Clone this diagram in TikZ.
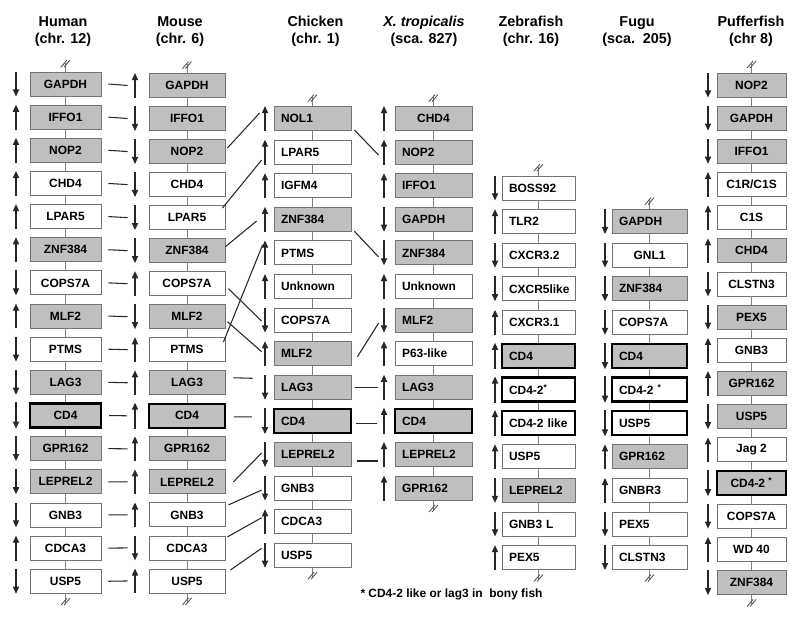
\documentclass[tikz,border=0pt]{standalone}
\usepackage{fontspec}
\setmainfont{Liberation Sans}
\usetikzlibrary{arrows.meta, calc}

\definecolor{boxgrey}{gray}{0.75}
\newcommand{\genefont}{\fontsize{8.5}{10}\selectfont\bfseries}
\newcommand{\headfont}{\fontsize{10.2}{12}\selectfont\bfseries}

\tikzset{
	gene/.style = {draw = black!55, line width = 0.6pt, minimum height = 0.6cm, inner xsep = 5pt, inner ysep = 0pt, font = \genefont},
	wbox/.style = {fill = white},
	gbox/.style = {fill = boxgrey},
	kbox/.style = {fill = boxgrey, draw = black, line width = 1.6pt},
	kwbox/.style = {fill = white, draw = black, line width = 1.6pt},
	gctr/.style = {gbox, align = center},
	wctr/.style = {wbox, align = center},
	lcol/.style = {text width = #1, align = left},
	arup/.style = {-{Triangle[length = 5pt, width = 4.4pt]}, draw = black!85, line width = 0.75pt},
	ardn/.style = {{Triangle[length = 5pt, width = 4.4pt]}-, draw = black!85, line width = 0.75pt},
	spine/.style = {draw = black!50, line width = 0.6pt},
	link/.style = {draw = black!85, line width = 0.75pt},
	head/.style = {font = \headfont, align = center},
	breakmark/.pic = {
		\draw[spine] (0, 0) -- (0, -9);
		\draw[black!70, line width = 0.6pt] (-4.5, -4.5) -- (1.5, -11.5) (-1.5, -4.5) -- (4.5, -11.5);
	}
}

\begin{document}
\begin{tikzpicture}[x = 0.025cm, y = -0.025cm]
	\useasboundingbox (0, 0) rectangle (800, 623);
	%Headers
	\node[head] (hdhum) at (63, 31.5) {Human\\(chr. 12)};
	\node[head] (hdmou) at (180, 31.5) {Mouse\\(chr. 6)};
	\node[head] (hdchi) at (315.5, 31.5) {Chicken\\(chr. 1)};
	\node[head] (hdxtr) at (424, 31.5) {{\itshape X. tropicalis}\\(sca. 827)};
	\node[head] (hdzeb) at (531, 31.5) {Zebrafish\\(chr. 16)};
	\node[head] (hdfug) at (637, 31.5) {Fugu\\(sca.~~205)};
	\node[head] (hdpuf) at (751, 31.5) {Pufferfish\\(chr 8)};
	%Strand arrows
	\coordinate (ah) at (16, 0);
	\coordinate (am) at (135, 0);
	\coordinate (ac) at (265, 0);
	\coordinate (ax) at (384, 0);
	\coordinate (az) at (495, 0);
	\coordinate (af) at (605, 0);
	\coordinate (ap) at (708, 0);
	%Human
	\foreach \gn/\fl/\dir [count = \i] in {GAPDH/gbox/ardn, IFFO1/gbox/arup, NOP2/gbox/arup, CHD4/wbox/arup, LPAR5/wbox/arup, ZNF384/gbox/arup, COPS7A/wbox/ardn, MLF2/gbox/arup, PTMS/wbox/ardn, LAG3/gbox/ardn, CD4/kbox/ardn, GPR162/gbox/ardn, LEPREL2/gbox/ardn, GNB3/wbox/ardn, CDCA3/wbox/arup, USP5/wbox/ardn}{
		\node[gene, minimum width = 1.775cm, \fl] (h\i) at (65.5, {84 + 33.15*(\i - 1)}) {\gn};
		\draw[\dir] (h\i.south -| ah) -- (h\i.north -| ah);
	}
	\foreach \i [count = \j from 2] in {1,...,15}
		\draw[spine] (h\i.south) -- (h\j.north);
	\pic at (h1.north) {breakmark};
	\pic[rotate = 180] at (h16.south) {breakmark};
	%Mouse
	\foreach \gn/\fl/\dir [count = \i] in {GAPDH/gbox/arup, IFFO1/gbox/ardn, NOP2/gbox/ardn, CHD4/wbox/ardn, LPAR5/wbox/ardn, ZNF384/gbox/ardn, COPS7A/wbox/arup, MLF2/gbox/ardn, PTMS/wbox/arup, LAG3/gbox/arup, CD4/kbox/arup, GPR162/gbox/arup, LEPREL2/gbox/arup, GNB3/wbox/arup, CDCA3/wbox/ardn, USP5/wbox/arup}{
		\node[gene, minimum width = 1.9cm, \fl] (m\i) at (187, {85.5 + 33.03*(\i - 1)}) {\gn};
		\draw[\dir] (m\i.south -| am) -- (m\i.north -| am);
	}
	\foreach \i [count = \j from 2] in {1,...,15}
		\draw[spine] (m\i.south) -- (m\j.north);
	\pic at (m1.north) {breakmark};
	\pic[rotate = 180] at (m16.south) {breakmark};
	%Chicken
	\foreach \gn/\fl/\dir [count = \i] in {NOL1/gbox/arup, LPAR5/wbox/arup, IGFM4/wbox/arup, ZNF384/gbox/arup, PTMS/wbox/arup, Unknown/wbox/arup, COPS7A/wbox/ardn, MLF2/gbox/arup, LAG3/gbox/ardn, CD4/kbox/ardn, LEPREL2/gbox/ardn, GNB3/wbox/ardn, CDCA3/wbox/arup, USP5/wbox/ardn}{
		\node[gene, lcol = 1.572cm, \fl] (c\i) at (312.5, {118.5 + 33.6*(\i - 1)}) {\gn};
		\draw[\dir] (c\i.south -| ac) -- (c\i.north -| ac);
	}
	\foreach \i [count = \j from 2] in {1,...,13}
		\draw[spine] (c\i.south) -- (c\j.north);
	\pic at (c1.north) {breakmark};
	\pic[rotate = 180] at (c14.south) {breakmark};
	%X. tropicalis
	\foreach \gn/\fl/\dir [count = \i] in {CHD4/gctr/arup, NOP2/gbox/arup, IFFO1/gbox/arup, GAPDH/gbox/ardn, ZNF384/gbox/ardn, Unknown/wbox/arup, MLF2/gbox/ardn, P63-like/wbox/arup, LAG3/gbox/arup, CD4/kbox/arup, LEPREL2/gbox/arup, GPR162/gbox/arup}{
		\node[gene, lcol = 1.572cm, \fl] (x\i) at (433.5, {118.5 + 33.6*(\i - 1)}) {\gn};
		\draw[\dir] (x\i.south -| ax) -- (x\i.north -| ax);
	}
	\foreach \i [count = \j from 2] in {1,...,11}
		\draw[spine] (x\i.south) -- (x\j.north);
	\pic at (x1.north) {breakmark};
	\pic[rotate = 180] at (x12.south) {breakmark};
	%Zebrafish
	\foreach \gn/\fl/\dir [count = \i] in {BOSS92/wbox/ardn, TLR2/wbox/arup, CXCR3.2/wbox/ardn, CXCR5like/wbox/ardn, CXCR3.1/wbox/arup, CD4/kbox/arup, CD4-2\textsuperscript{*}/kwbox/arup, CD4-2 like/kwbox/arup, USP5/wbox/arup, LEPREL2/gbox/ardn, GNB3 L/wbox/ardn, PEX5/wbox/arup}{
		\node[gene, lcol = 1.472cm, \fl] (z\i) at (538.5, {188 + 33.6*(\i - 1)}) {\gn};
		\draw[\dir] (z\i.south -| az) -- (z\i.north -| az);
	}
	\foreach \i [count = \j from 2] in {1,...,11}
		\draw[spine] (z\i.south) -- (z\j.north);
	\pic at (z1.north) {breakmark};
	\pic[rotate = 180] at (z12.south) {breakmark};
	%Fugu
	\foreach \gn/\fl/\dir [count = \i] in {GAPDH/gbox/ardn, GNL1/wctr/ardn, ZNF384/gbox/ardn, COPS7A/wbox/ardn, CD4/kbox/ardn, CD4-2 \textsuperscript{*}/kwbox/ardn, USP5/kwbox/ardn, GPR162/gbox/arup, GNBR3/wbox/arup, PEX5/wbox/ardn, CLSTN3/wbox/ardn}{
		\node[gene, lcol = 1.522cm, \fl] (f\i) at (649.5, {221.6 + 33.6*(\i - 1)}) {\gn};
		\draw[\dir] (f\i.south -| af) -- (f\i.north -| af);
	}
	\foreach \i [count = \j from 2] in {1,...,10}
		\draw[spine] (f\i.south) -- (f\j.north);
	\pic at (f1.north) {breakmark};
	\pic[rotate = 180] at (f11.south) {breakmark};
	%Pufferfish
	\foreach \gn/\fl/\dir [count = \i] in {NOP2/gbox/ardn, GAPDH/gbox/ardn, IFFO1/gbox/ardn, {C1R/C1S}/wbox/arup, C1S/wbox/arup, CHD4/gbox/arup, CLSTN3/wbox/ardn, PEX5/gbox/ardn, GNB3/wbox/arup, GPR162/gbox/arup, USP5/gbox/ardn, Jag 2/wbox/arup, CD4-2 \textsuperscript{*}/kbox/ardn, COPS7A/wbox/ardn, WD 40/wbox/arup, ZNF384/gbox/ardn}{
		\node[gene, minimum width = 1.725cm, \fl] (p\i) at (751.5, {85 + 33.17*(\i - 1)}) {\gn};
		\draw[\dir] (p\i.south -| ap) -- (p\i.north -| ap);
	}
	\foreach \i [count = \j from 2] in {1,...,15}
		\draw[spine] (p\i.south) -- (p\j.north);
	\pic at (p1.north) {breakmark};
	\pic[rotate = 180] at (p16.south) {breakmark};
	%Human to mouse
	\foreach \i in {1,...,16}
		\draw[link] ($(h\i.east) + (7, 0)$) -- ($(m\i.west) + (-21, 0)$);
	%Mouse to chicken
	\draw[link] ($(m3.east) + (2, -3.6)$) -- ($(c1.west) + (-14, -5.5)$);
	\draw[link] ($(m5.east) + (-3, -9.6)$) -- ($(c2.west) + (-12, 8)$);
	\draw[link] ($(m6.east) + (0, -4)$) -- ($(c4.west) + (-17, 1.7)$);
	\draw[link] ($(m9.east) + (-2, -7.7)$) -- ($(c5.west) + (-11, -8)$);
	\draw[link] ($(m7.east) + (3, 5)$) -- ($(c7.west) + (-12, 1)$);
	\draw[link] ($(m8.east) + (2, 5)$) -- ($(c8.west) + (-12, -2)$);
	\draw[link] ($(m10.east) + (8, -5)$) -- ($(c9.west) + (-21, -9)$);
	\draw[link] ($(m11.east) + (8, 1)$) -- ($(c10.west) + (-21, -4)$);
	\draw[link] ($(m13.east) + (8, 0)$) -- ($(c11.west) + (-12, -1.5)$);
	\draw[link] ($(m14.east) + (3, -10)$) -- ($(c12.west) + (-12, 2)$);
	\draw[link] ($(m15.east) + (2, -11)$) -- ($(c13.west) + (-12, -4)$);
	\draw[link] ($(m16.east) + (5, -11)$) -- ($(c14.west) + (-12, -7)$);
	%Chicken to X. tropicalis
	\draw[link] ($(c1.east) + (3, 11.5)$) -- ($(x2.west) + (-16, 3)$);
	\draw[link] ($(c4.east) + (3, 12)$) -- ($(x5.west) + (-16, 4)$);
	\draw[link] ($(c8.east) + (6, 3)$) -- ($(x7.west) + (-16, 3)$);
	\draw[link] ($(c9.east) + (4, 0)$) -- ($(x9.west) + (-17, 0)$);
	\draw[link] ($(c10.east) + (4, 3)$) -- ($(x10.west) + (-17, 3)$);
	\draw[link] ($(c11.east) + (6, 6.5)$) -- ($(x11.west) + (-17, 6.5)$);
	%Note
	\node[font = \genefont] (note) at (451.5, 594) {* CD4-2 like or lag3 in\ \ bony fish};
\end{tikzpicture}
\end{document}
